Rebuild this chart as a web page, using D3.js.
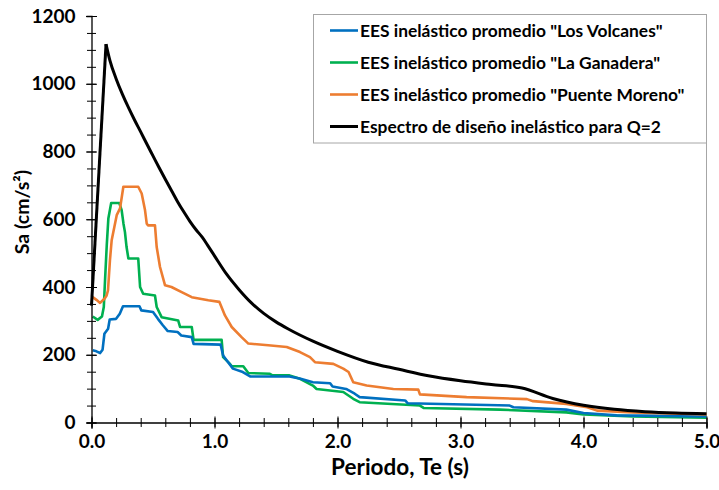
<!DOCTYPE html>
<html><head><meta charset="utf-8">
<script src="https://cdn.jsdelivr.net/npm/d3@7"></script>
<style>
body{margin:0;background:#fff}
svg{display:block}
text{font-family:Lato,'Open Sans',sans-serif;font-weight:bold;fill:#000}
</style>
</head><body>
<svg id="chart" width="719" height="490"></svg>
<script>
// ---------- data ----------
const xTicks = [0, 1, 2, 3, 4, 5];
const xMinorTicks = d3.range(0, 5.0001, 0.2);
const yTicks = [0, 200, 400, 600, 800, 1000, 1200];
const yMinorTicks = d3.range(0, 1200.1, 50);

const seriesNames = [
  'EES inelástico promedio "Los Volcanes"',
  'EES inelástico promedio "La Ganadera"',
  'EES inelástico promedio "Puente Moreno"',
  'Espectro de diseño inelástico para Q=2'
];
const seriesColors = ["#0070C0", "#00B050", "#ED7D31", "#000000"];

const volcanesT  = [0.01,0.04,0.07,0.09,0.105,0.135,0.148,0.2,0.23,0.256,0.39,0.405,0.5,0.54,0.58,0.62,0.70,0.73,0.815,0.83,1.05,1.07,1.10,1.15,1.23,1.29,1.61,1.70,1.80,1.94,1.96,2.07,2.14,2.18,2.55,2.57,3.40,3.43,3.86,4.00,4.27,5.0];
const volcanesSa = [213,210,205,215,262,277,304,306,321,343,343,331,326,306,287,270,267,257,252,232,230,198,183,159,149,136,136,129,119,116,106,99,85,75,65,57,50,45,38,28,21,18];

const ganaderaT  = [0.01,0.05,0.085,0.10,0.11,0.124,0.137,0.16,0.226,0.245,0.26,0.272,0.285,0.30,0.38,0.395,0.42,0.516,0.53,0.57,0.705,0.72,0.815,0.83,1.058,1.07,1.126,1.14,1.234,1.275,1.45,1.47,1.61,1.695,1.80,1.83,2.047,2.128,2.18,2.67,2.70,3.32,3.86,4.0,4.4,5.0];
const ganaderaSa = [313,303,313,341,420,523,602,648,648,627,587,562,518,484,484,400,380,375,341,311,301,282,282,244,244,193,173,166,166,146,144,139,139,129,109,99,90,70,60,50,43,38,30,24,18,14];

const morenoT  = [0.01,0.04,0.07,0.107,0.123,0.134,0.15,0.164,0.205,0.232,0.259,0.38,0.408,0.435,0.449,0.46,0.516,0.53,0.557,0.598,0.65,0.733,0.815,0.95,1.04,1.085,1.14,1.22,1.275,1.437,1.587,1.695,1.776,1.817,1.966,2.047,2.09,2.128,2.237,2.454,2.657,2.67,3.05,3.54,3.59,3.86,4.03,4.11,4.4,5.0];
const morenoSa = [370,362,353,366,375,390,479,538,612,632,696,696,676,627,587,582,582,518,459,405,400,385,370,361,356,316,282,252,233,228,223,208,193,178,173,159,149,119,109,99,97,83,75,69,63,55,45,35,30,24];

const designT  = [0,0.118,0.15,0.2,0.25,0.3,0.35,0.4,0.45,0.5,0.55,0.6,0.65,0.7,0.75,0.8,0.85,0.9,0.95,1.0,1.1,1.2,1.3,1.4,1.5,1.6,1.8,2.0,2.25,2.5,2.75,3.0,3.25,3.5,3.75,4.0,4.25,4.5,4.75,5.0];
const designSa = [345,1117,1068,1015,970,930,893,858,822,787,752,718,685,652,622,594,569,547,520,492,437,392,353,322,297,276,240,210,178,157,137,123,112,102,71,51,39,32,28,26];

// ---------- chart ----------
const svg = d3.select("#chart");
const x = d3.scaleLinear().domain([0, 5]).range([91.5, 706.5]);
const y = d3.scaleLinear().domain([0, 1200]).range([422.5, 16]);

// right plot border
svg.append("line").attr("x1", x(5)).attr("x2", x(5)).attr("y1", y(1200)).attr("y2", y(0))
  .attr("stroke", "#a6a6a6").attr("stroke-width", 1);

// series
const line = d3.line().x(d => x(d[0])).y(d => y(d[1]));
const seriesData = [
  d3.zip(volcanesT, volcanesSa),
  d3.zip(ganaderaT, ganaderaSa),
  d3.zip(morenoT, morenoSa)
];
const gLines = svg.append("g");
[1, 0, 2].forEach(i => {
  gLines.append("path").datum(seriesData[i]).attr("d", line)
    .attr("fill", "none").attr("stroke", seriesColors[i]).attr("stroke-width", 2.6)
    .attr("stroke-linejoin", "round");
});
// design spectrum: rising branch straight, decaying branch smooth
const design = d3.zip(designT, designSa);
gLines.append("path").datum(design.slice(0, 2)).attr("d", line)
  .attr("fill", "none").attr("stroke", seriesColors[3]).attr("stroke-width", 3);
gLines.append("path").datum(design.slice(1))
  .attr("d", d3.line().x(d => x(d[0])).y(d => y(d[1])).curve(d3.curveMonotoneX))
  .attr("fill", "none").attr("stroke", seriesColors[3]).attr("stroke-width", 3)
  .attr("stroke-linejoin", "round");

// x axis
const gx = svg.append("g").attr("transform", `translate(0,${y(0)})`);
gx.call(d3.axisBottom(x).tickValues(xMinorTicks).tickSize(0).tickFormat(""))
  .call(g => g.selectAll(".tick line").attr("y1", -4.5).attr("y2", 4.5).attr("stroke", "#000"));
gx.select(".domain").remove();
const gx2 = svg.append("g").attr("transform", `translate(0,${y(0)})`);
gx2.call(d3.axisBottom(x).tickValues(xTicks).tickSizeOuter(0).tickSize(6).tickPadding(6).tickFormat(d3.format(".1f")))
  .call(g => g.selectAll(".tick line").attr("y1", -6).attr("y2", 6).attr("stroke", "#000"))
  .call(g => g.select(".domain").attr("stroke", "#000").attr("stroke-width", 1.3))
  .call(g => g.selectAll(".tick text").attr("font-size", 19).attr("font-family", "Lato").attr("font-weight", "bold"));

// y axis
const gy = svg.append("g").attr("transform", `translate(${x(0)},0)`);
gy.call(d3.axisLeft(y).tickValues(yMinorTicks).tickSize(0).tickFormat(""))
  .call(g => g.selectAll(".tick line").attr("x1", -4.5).attr("x2", 4.5).attr("stroke", "#000"));
gy.select(".domain").remove();
const gy2 = svg.append("g").attr("transform", `translate(${x(0)},0)`);
gy2.call(d3.axisLeft(y).tickValues(yTicks).tickSizeOuter(0).tickSize(5).tickPadding(11).tickFormat(d3.format("d")))
  .call(g => g.selectAll(".tick line").attr("x1", -5.5).attr("x2", 5.5).attr("stroke", "#000"))
  .call(g => g.select(".domain").attr("stroke", "#000").attr("stroke-width", 1.3))
  .call(g => g.selectAll(".tick text").attr("font-size", 19).attr("font-family", "Lato").attr("font-weight", "bold"));

// axis titles
svg.append("text").attr("x", 400).attr("y", 475).attr("text-anchor", "middle")
  .attr("font-size", 22.5).text("Periodo, Te (s)");
svg.append("text").attr("transform", "translate(29,212) rotate(-90)").attr("text-anchor", "middle")
  .attr("font-size", 19.5).text("Sa (cm/s²)");

// legend
const lg = svg.append("g");
lg.append("rect").attr("x", 313.5).attr("y", 14.5).attr("width", 393).attr("height", 128.5)
  .attr("fill", "#fff").attr("stroke", "#a6a6a6").attr("stroke-width", 1);
seriesNames.forEach((name, i) => {
  const yy = 30.5 + i * 32;
  lg.append("line").attr("x1", 330).attr("x2", 358).attr("y1", yy).attr("y2", yy)
    .attr("stroke", seriesColors[i]).attr("stroke-width", i === 3 ? 3 : 2.6);
  lg.append("text").attr("x", 360).attr("y", yy).attr("dy", "0.35em")
    .attr("font-size", 17.4).text(name);
});
</script>
</body></html>
